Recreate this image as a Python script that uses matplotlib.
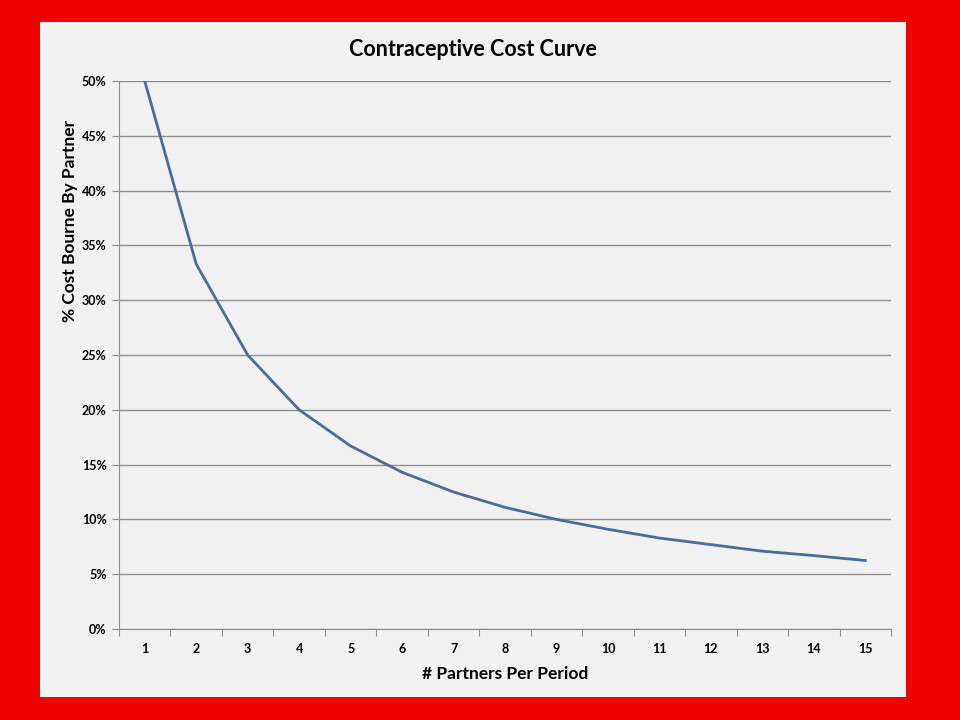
import matplotlib.pyplot as plt
from matplotlib.patches import Rectangle
from matplotlib.ticker import FuncFormatter

# data
partners = [1, 2, 3, 4, 5, 6, 7, 8, 9, 10, 11, 12, 13, 14, 15]
cost_share = [0.50, 0.333, 0.25, 0.20, 0.167, 0.143, 0.125, 0.111, 0.10,
              0.091, 0.083, 0.077, 0.071, 0.067, 0.0625]
y_ticks = [0, 0.05, 0.10, 0.15, 0.20, 0.25, 0.30, 0.35, 0.40, 0.45, 0.50]

plt.rcParams['font.family'] = ['Lato', 'DejaVu Sans']

fig = plt.figure(figsize=(9.6, 7.2), dpi=100)
fig.patch.set_facecolor('#f00000')

# light panel behind the chart
fig.patches.append(Rectangle((40 / 960, 1 - 697 / 720), 866 / 960, 675 / 720,
                             transform=fig.transFigure, facecolor='#f1f1f1',
                             edgecolor='none', zorder=-1))

ax = fig.add_axes([119 / 960, 1 - 629 / 720, 772 / 960, 548 / 720])
ax.set_facecolor('#f1f1f1')

ax.plot(partners, cost_share, color='#4a6c9b', linewidth=2.0, zorder=3)

ax.set_xlim(0.5, 15.5)
ax.set_ylim(0, 0.5)
ax.set_yticks(y_ticks)
ax.yaxis.set_major_formatter(FuncFormatter(lambda v, p: f"{round(v * 100)}%"))
ax.grid(axis='y', color='#8c8c8c', linewidth=1)
ax.set_axisbelow(True)

# category ticks sit between labels, like Excel
ax.set_xticks([p + 0.5 for p in [0] + partners])
ax.set_xticklabels([])
ax.set_xticks(partners, minor=True)
ax.set_xticklabels([str(p) for p in partners], minor=True)
ax.tick_params(axis='x', which='minor', length=0, pad=10, labelsize=9)
ax.tick_params(axis='x', which='major', length=5, color='#8c8c8c')
ax.tick_params(axis='y', length=5, color='#8c8c8c', labelsize=9, pad=4)
for lbl in ax.get_xticklabels(minor=True) + ax.get_yticklabels():
    lbl.set_fontweight('bold')

for side in ['top', 'right']:
    ax.spines[side].set_visible(False)
for side in ['left', 'bottom']:
    ax.spines[side].set_color('#8c8c8c')

ax.set_xlabel('# Partners Per Period', fontsize=12.5, fontweight='bold', labelpad=8)
ax.set_ylabel('% Cost Bourne By Partner', fontsize=12.5, fontweight='bold')
# y label sits high on the axis in the original
ax.yaxis.set_label_coords(-0.053, 0.745)
fig.text(473 / 960, 1 - 50 / 720, 'Contraceptive Cost Curve', fontsize=15.5,
         fontweight='bold', ha='center', va='center')

fig.savefig('out.png', dpi=100, facecolor=fig.get_facecolor())
